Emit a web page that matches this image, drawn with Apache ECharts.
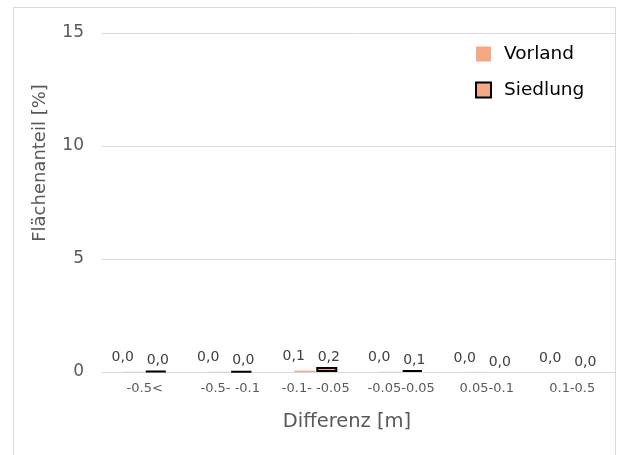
<!DOCTYPE html>
<html>
<head>
<meta charset="utf-8">
<script src="https://cdn.jsdelivr.net/npm/echarts@6/dist/echarts.min.js"></script>
<style>html,body{margin:0;padding:0;background:#fff}#c{width:619px;height:455px}</style>
</head>
<body>
<div id="c"></div>
<script>
var categories = ['-0.5<', '-0.5- -0.1', '-0.1- -0.05', '-0.05-0.05', '0.05-0.1', '0.1-0.5'];
var vorland = [0.01, 0.01, 0.06, 0.01, 0.005, 0.0];
var siedlung = [0.04, 0.03, 0.22, 0.08, 0.0, 0.0];
var yTicks = [0, 5, 10, 15];

var font = 'DejaVu Sans';
var fmt = function (p) { return p.value.toFixed(1).replace('.', ','); };
// zero-height bars draw no outline
function withOutline(values) {
  return values.map(function (v) {
    return v === 0 ? { value: v, itemStyle: { borderWidth: 0 } } : v;
  });
}
var chart = echarts.init(document.getElementById('c'));
chart.setOption({
  animation: false,
  backgroundColor: '#fff',
  textStyle: { fontFamily: font },
  graphic: [
    { type: 'rect', shape: { x: 13.5, y: 7.5, width: 602, height: 460 }, style: { fill: 'none', stroke: '#D9D9D9', lineWidth: 1 }, z: -1 },
    { type: 'text', x: 40, y: 163, rotation: Math.PI / 2, style: { text: 'Flächenanteil [%]', fontFamily: font, fontSize: 18, fill: '#595959', align: 'center', verticalAlign: 'middle' } },
    { type: 'text', x: 347, y: 422, style: { text: 'Differenz [m]', fontFamily: font, fontSize: 19.5, fill: '#595959', align: 'center', verticalAlign: 'middle' } }
  ],
  legend: {
    orient: 'vertical', left: 475, top: 43, padding: 0, itemWidth: 15, itemHeight: 15, itemGap: 14,
    icon: 'rect',
    textStyle: { fontFamily: font, fontSize: 18.5, color: '#000', lineHeight: 22, padding: [0, 0, 0, 8] },
    data: ['Vorland', 'Siedlung']
  },
  grid: { left: 102, right: 4, top: 33, bottom: 83 },
  xAxis: {
    type: 'category', data: categories,
    axisLine: { lineStyle: { color: '#D9D9D9', width: 1 } },
    axisTick: { show: false },
    axisLabel: { color: '#595959', fontSize: 13, margin: 10, interval: 0, fontFamily: font }
  },
  yAxis: {
    type: 'value', min: yTicks[0], max: yTicks[yTicks.length - 1], interval: 5,
    axisLine: { show: false }, axisTick: { show: false },
    axisLabel: { color: '#595959', fontSize: 17, margin: 18, fontFamily: font },
    splitLine: { lineStyle: { color: '#D9D9D9', width: 1 } }
  },
  series: [
    {
      name: 'Vorland', type: 'bar', data: vorland, barWidth: 21, barGap: '5%',
      itemStyle: { color: '#F5A886' },
      label: { show: true, position: 'top', distance: 7, offset: [-11, 0], formatter: fmt, color: '#404040', fontSize: 14, fontFamily: font }
    },
    {
      name: 'Siedlung', type: 'bar', data: withOutline(siedlung), barWidth: 21,
      itemStyle: { color: '#F5A886', borderColor: '#000', borderWidth: 2 },
      label: { show: true, position: 'top', distance: 3, offset: [2, 0], formatter: fmt, color: '#404040', fontSize: 14, fontFamily: font }
    }
  ]
});
</script>
</body>
</html>
